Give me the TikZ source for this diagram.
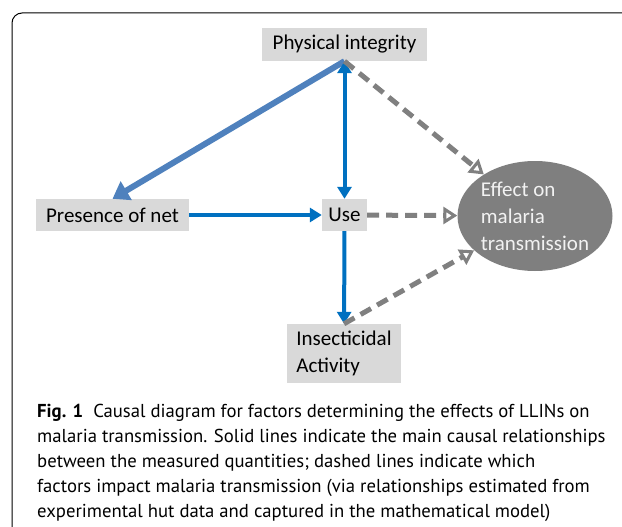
\documentclass[tikz,border=0pt]{standalone}
\usepackage{fontspec}
\setmainfont{Carlito}
\newfontfamily\capfont{PT Sans}
\usetikzlibrary{arrows.meta,shapes.geometric}
\definecolor{boxgray}{HTML}{D9D9D9}
\definecolor{netblue}{HTML}{4F81BD}
\definecolor{useblue}{HTML}{0070C0}
\definecolor{dashgray}{HTML}{808080}
\definecolor{effgray}{HTML}{7F7F7F}

\begin{document}
\begin{tikzpicture}[x=1pt,y=-1pt,
  every node/.style={font=\fontsize{21}{27}\selectfont},
  factor/.style={fill=boxgray, inner sep=0pt},
  solidarrow/.style={useblue, line width=4pt, -{Triangle[length=12pt,width=14pt]}},
  dasharrow/.style={dashgray, line width=5pt, dash pattern=on 12pt off 7pt,
    -{Triangle[open,length=14pt,width=17pt,line width=3pt]}}]
  \useasboundingbox (0,0) rectangle (622,527);
  \draw[line width=1pt, rounded corners=10pt] (640,13) -- (12,13) -- (12,545);
  % factors
  \node[factor, minimum width=165pt, minimum height=33pt] (pi) at (344.5,44.5) {Physical integrity};
  \node[factor, minimum width=153pt, minimum height=32pt] (net) at (112.5,215) {Presence of net};
  \node[factor, minimum width=45pt, minimum height=32pt] (use) at (344.5,215) {Use};
  \node[factor, minimum width=114pt, minimum height=59pt, align=left] (ins) at (344,353.5) {Insecticidal\\Activity};
  \node[ellipse, fill=effgray, text=white!90!gray, inner sep=0pt, minimum width=155pt,
    minimum height=110pt, align=left] (eff) at (535,216) {Effect on\\malaria\\transmission};
  % causal links
  \draw[netblue, line width=6pt, -{Triangle[length=16pt,width=21pt]}] (pi.south) -- (net.north);
  \draw[solidarrow, {Triangle[length=12pt,width=14pt]}-{Triangle[length=12pt,width=14pt]}] (pi.south) -- (use.north);
  \draw[solidarrow] (net) -- (use);
  \draw[solidarrow] (use) -- (ins);
  % impact on transmission
  \draw[dasharrow] (pi.south) -- (eff);
  \draw[dasharrow] (use) -- (eff);
  \draw[dasharrow] (ins.north) -- (eff);
  % caption
  \node[anchor=north west, inner sep=0pt, align=left, font=\capfont\fontsize{18.7}{25}\selectfont] (cap) at (37,404)
    {\textbf{Fig. 1}\ \ Causal diagram for factors determining the effects of LLINs on\\
     malaria transmission. Solid lines indicate the main causal relationships\\
     between the measured quantities; dashed lines indicate which\\
     factors impact malaria transmission (via relationships estimated from\\
     experimental hut data and captured in the mathematical model)};
\end{tikzpicture}
\end{document}
